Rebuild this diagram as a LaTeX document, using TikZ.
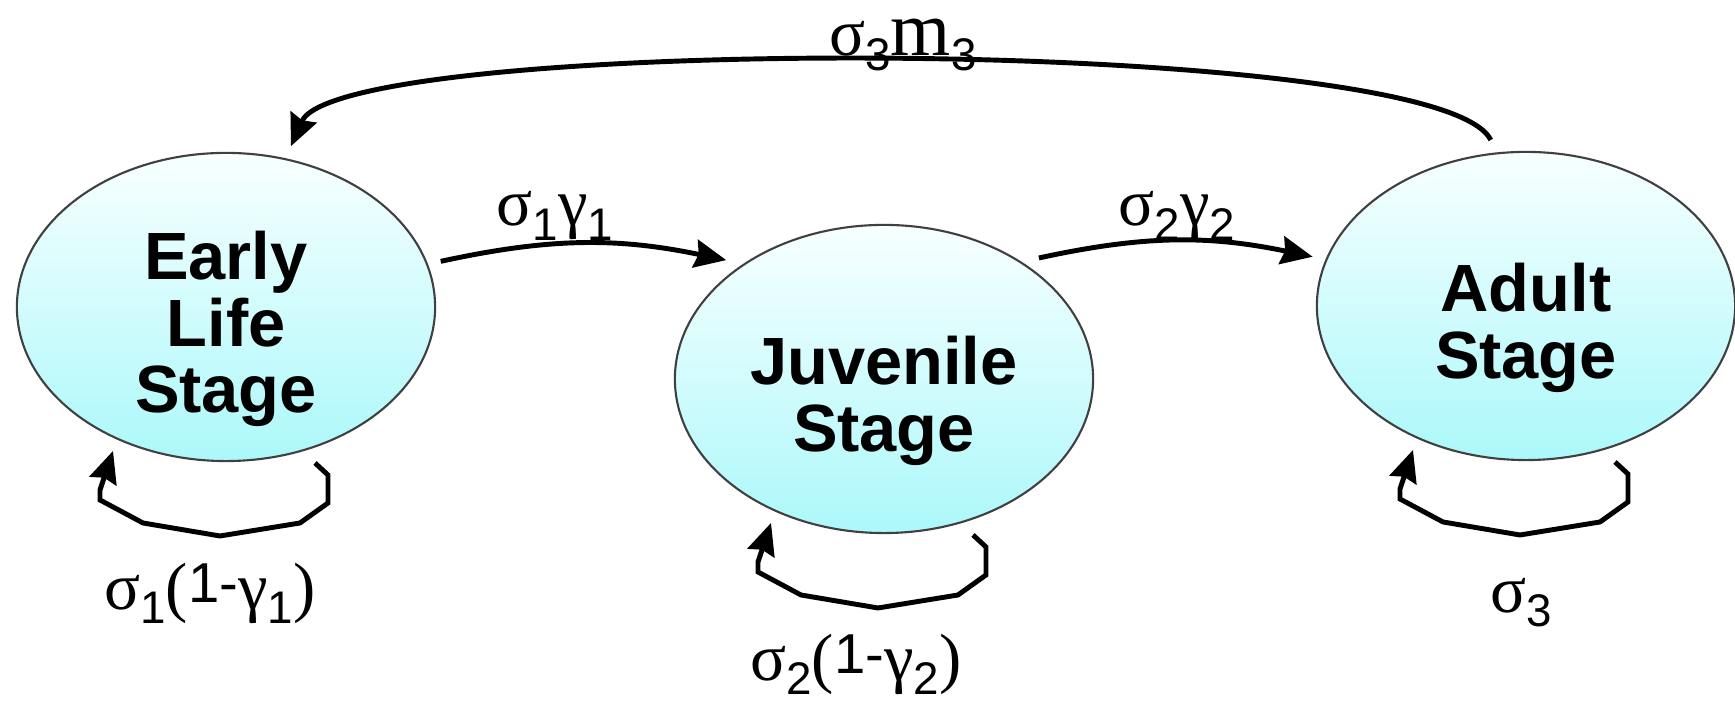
\documentclass[tikz,border=0pt]{standalone}
\usepackage{fontspec}
\setmainfont{Liberation Sans}
\newfontfamily\grkfont{Liberation Serif}
\usetikzlibrary{arrows.meta, shapes.geometric}

\definecolor{stagetop}{RGB}{248,255,255}
\definecolor{stagebot}{RGB}{172,248,250}

\newcommand{\gk}[1]{{\grkfont\fontsize{19}{19}\selectfont #1}}
\newcommand{\sbs}[1]{\raisebox{-4pt}{\fontsize{13}{13}\selectfont #1}}
\newcommand{\one}{\raisebox{2pt}{\fontsize{16}{16}\selectfont 1-}}

\begin{document}
\begin{tikzpicture}[> = {Stealth[length=9pt, width=8pt, inset=1pt]}, % arrow head style
                x = 0.01cm, y = 0.01cm, % one unit per pixel
                line width = 1.4pt % line style
            ]

            \tikzstyle{stage}=[ellipse, draw = black!75, line width = 0.6pt,
            top color = stagetop, bottom color = stagebot,
            minimum width = 4.18cm, minimum height = 3.08cm, outer sep = 0.14cm]
            \tikzstyle{stagetext}=[align = center, font = \fontsize{19}{19}\selectfont\bfseries]
            \tikzstyle{rate}=[inner sep = 0pt, font = \fontsize{13}{13}\selectfont]

            \useasboundingbox (0,0) rectangle (1735,704);

            \node[stage] (early) at (226,397) {}; \node[stage] (juvenile) at
            (884,325) {}; \node[stage] (adult) at (1526,398) {};

            \node[stagetext] (earlytxt) at ([yshift=-0.22cm]early.center)
            {Early\\Life\\Stage}; \node[stagetext] (juveniletxt) at
            ([yshift=-0.22cm]juvenile.center) {Juvenile\\Stage};
            \node[stagetext] (adulttxt) at ([yshift=-0.22cm]adult.center)
            {Adult\\Stage};

            % transitions between stages
            \draw[->] (early.12) to[bend left=12] (juvenile.143);
            \draw[->] (juvenile.38) to[bend left=12] (adult.167);
            \draw[->] (adult.102) .. controls (1440,670) and (340,670) .. (early.68);

            % staying in the same stage
            \draw[->] ([shift={(89,-156)}]early.center) -- ++(13,-12) -- ++(0,-28)
            -- ++(-28,-20) -- ++(-80,-13) -- ++(-77,13) -- ++(-43,23) -- ++(0,10)
            -- ++(13,39);
            \draw[->] ([shift={(89,-156)}]juvenile.center) -- ++(13,-12) -- ++(0,-28)
            -- ++(-28,-20) -- ++(-80,-13) -- ++(-77,13) -- ++(-43,23) -- ++(0,10)
            -- ++(13,39);
            \draw[->] ([shift={(89,-156)}]adult.center) -- ++(13,-12) -- ++(0,-28)
            -- ++(-28,-20) -- ++(-80,-13) -- ++(-77,13) -- ++(-43,23) -- ++(0,10)
            -- ++(13,39);

            \node[rate] (earlyjuv) at (555,488) {\gk{σ}\sbs{1}\gk{γ}\sbs{1}};
            \node[rate] (juvadult) at (1177,488) {\gk{σ}\sbs{2}\gk{γ}\sbs{2}};
            \node[rate] (adultearly) at (903,659)
            {\gk{σ}\sbs{3}{\grkfont\fontsize{22}{22}\selectfont m}\sbs{3}};
            \node[rate] (selfearly) at (210,111)
            {\gk{σ}\sbs{1}\gk{(}\one\gk{γ}\sbs{1}\gk{)}};
            \node[rate] (selfjuv) at (856,40)
            {\gk{σ}\sbs{2}\gk{(}\one\gk{γ}\sbs{2}\gk{)}};
            \node[rate] (selfadult) at (1521,101) {\gk{σ}\sbs{3}};
        \end{tikzpicture}
\end{document}
